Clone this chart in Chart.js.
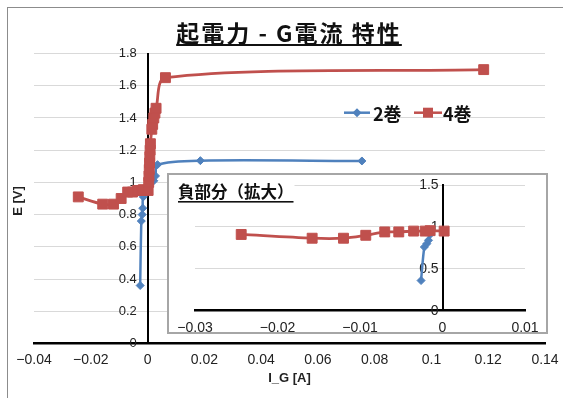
<!DOCTYPE html>
<html>
<head>
<meta charset="utf-8">
<script src="https://cdn.jsdelivr.net/npm/chart.js@4.4.1/dist/chart.umd.min.js"></script>
<style>
  html, body { margin: 0; padding: 0; background: #fff; }
  body { width: 563px; height: 398px; position: relative; overflow: hidden; }
  #frame { position: absolute; left: 7px; top: 7px; width: 700px; height: 600px; border: 1px solid #8c8c8c; }
  #mainChart { position: absolute; left: 0; top: 0; }
  #insetBox { position: absolute; left: 167px; top: 173px; width: 381px; height: 161px; box-sizing: border-box; border: 2px solid #a6a6a6; background: #fff; }
  #insetChart { position: absolute; left: 167px; top: 173px; }
</style>
</head>
<body>
<div id="frame"></div>
<canvas id="mainChart" width="563" height="398"></canvas>
<div id="insetBox"></div>
<canvas id="insetChart" width="381" height="161"></canvas>
<script>
// 2巻 (blue) : I_G [A], E [V]
const blueX = [-0.0026, -0.0022, -0.0019, -0.0017, -0.0015, 0.0022, 0.0028, 0.0035, 0.0186, 0.0755];
const blueY = [0.36, 0.76, 0.80, 0.84, 0.91, 1.01, 1.04, 1.11, 1.135, 1.133];

// 4巻 (red)
const redX = [-0.0244, -0.0158, -0.0120, -0.0093, -0.0070, -0.0053, -0.0035, -0.0021, -0.0015, 0.0002,
              0.0004, 0.0005, 0.0006, 0.0007, 0.0008, 0.0009, 0.0010, 0.0015, 0.0018, 0.0022, 0.0026, 0.0030,
              0.0063, 0.1184];
const redY = [0.91, 0.865, 0.865, 0.90, 0.94, 0.94, 0.95, 0.95, 0.955, 0.95,
              1.00, 1.04, 1.08, 1.12, 1.16, 1.20, 1.24, 1.33, 1.36, 1.40, 1.43, 1.46,
              1.65, 1.70];

// how many points of each series belong to the negative part (inset)
const blueNegCount = 5;
const redNegCount = 10;

const seriesNames = ['2巻', '4巻'];
const mainTitle = '起電力 - G電流 特性';
const insetTitle = '負部分（拡大）';

const BLUE = '#4F81BD';
const RED = '#C0504D';
const TICK_COLOR = '#222';
const CJK = '"Noto Sans CJK JP", sans-serif';
const LATIN = '"Liberation Sans", Arial, sans-serif';

function toPoints(xs, ys) {
  return xs.map((x, i) => ({ x: x, y: ys[i] }));
}

function fmtTick(v) {
  const r = Math.round(v * 1000) / 1000;
  return (r < 0 ? '\u2212' : '') + Math.abs(r).toString();
}

// y labels sit on the axis at x = 0, trailing spaces keep them off the line
const fmtMainY = v => fmtTick(v) + '   ';
const fmtInsetY = v => fmtTick(v) + ' ';

function blueSet(points) {
  return {
    label: seriesNames[0], data: points, showLine: true, tension: 0.3,
    borderColor: BLUE, backgroundColor: BLUE, borderWidth: 2.5,
    pointStyle: 'rectRot', pointRadius: 4, pointHoverRadius: 4,
    pointBorderWidth: 1, pointBorderColor: BLUE, order: 1
  };
}

function redSet(points) {
  return {
    label: seriesNames[1], data: points, showLine: true, tension: 0.3,
    borderColor: RED, backgroundColor: RED, borderWidth: 2.8,
    pointStyle: 'rect', pointRadius: 7, pointHoverRadius: 7,
    pointBorderWidth: 1, pointBorderColor: RED, order: 0
  };
}

// draws a diamond or square marker for the legend
function marker(ctx, style, x, y, color) {
  ctx.fillStyle = color;
  ctx.beginPath();
  if (style === 'rect') {
    ctx.rect(x - 5, y - 5, 10, 10);
  } else {
    ctx.moveTo(x, y - 4.5); ctx.lineTo(x + 4.5, y); ctx.lineTo(x, y + 4.5); ctx.lineTo(x - 4.5, y);
    ctx.closePath();
  }
  ctx.fill();
}

const mainDecor = {
  id: 'mainDecor',
  afterDraw(chart) {
    const ctx = chart.ctx;
    ctx.save();
    // title
    ctx.font = 'bold 23px ' + CJK;
    ctx.letterSpacing = '2px';
    ctx.fillStyle = '#111';
    ctx.textAlign = 'center';
    ctx.textBaseline = 'middle';
    ctx.fillText(mainTitle, 289, 33);
    const w = ctx.measureText(mainTitle).width;
    ctx.fillRect(289 - w / 2, 44, w, 2);
    ctx.letterSpacing = '0px';

    // y axis title
    ctx.save();
    ctx.translate(18, 201);
    ctx.rotate(-Math.PI / 2);
    ctx.font = 'bold 13px ' + LATIN;
    ctx.fillStyle = '#222';
    ctx.fillText('E [V]', 0, 0);
    ctx.restore();

    // legend
    const ly = 112.7;
    ctx.lineWidth = 2.5;
    ctx.strokeStyle = BLUE;
    ctx.beginPath(); ctx.moveTo(344, ly); ctx.lineTo(370, ly); ctx.stroke();
    marker(ctx, 'rectRot', 357, ly, BLUE);
    ctx.strokeStyle = RED;
    ctx.beginPath(); ctx.moveTo(414, ly); ctx.lineTo(442, ly); ctx.stroke();
    marker(ctx, 'rect', 428, ly, RED);
    ctx.font = 'bold 18px ' + CJK;
    ctx.fillStyle = '#111';
    ctx.textAlign = 'left';
    ctx.fillText(seriesNames[0], 373, ly + 1);
    ctx.fillText(seriesNames[1], 443, ly + 1);
    ctx.restore();
  }
};

const insetDecor = {
  id: 'insetDecor',
  afterDraw(chart) {
    const ctx = chart.ctx;
    ctx.save();
    ctx.font = 'bold 16.5px ' + CJK;
    const w = ctx.measureText(insetTitle).width;
    ctx.fillStyle = '#fff';
    ctx.fillRect(10, 8, w + 2, 22);
    ctx.fillStyle = '#111';
    ctx.textAlign = 'left';
    ctx.textBaseline = 'middle';
    ctx.fillText(insetTitle, 11, 19);
    ctx.fillRect(11, 28, w, 1.6);
    ctx.restore();
  }
};

new Chart(document.getElementById('mainChart'), {
  type: 'scatter',
  data: { datasets: [blueSet(toPoints(blueX, blueY)), redSet(toPoints(redX, redY))] },
  options: {
    responsive: false,
    animation: false,
    layout: { padding: { left: 34, right: 18, top: 53.5, bottom: 0 } },
    plugins: { legend: { display: false }, tooltip: { enabled: false } },
    scales: {
      x: {
        type: 'linear', min: -0.04, max: 0.14,
        afterFit: s => { s.height = 54.5; },
        ticks: { stepSize: 0.02, padding: 0, maxRotation: 0, autoSkip: false, color: TICK_COLOR,
                 font: { family: LATIN, size: 14 }, callback: fmtTick },
        grid: { display: false },
        border: { display: true, color: '#000', width: 2.5 },
        title: { display: true, text: 'I_G [A]', color: '#222',
                 font: { family: LATIN, size: 13, weight: 'bold' }, padding: { top: 0, bottom: 12 } }
      },
      y: {
        type: 'linear', min: 0, max: 1.8, position: { x: 0 },
        ticks: { stepSize: 0.2, padding: 0, color: TICK_COLOR, font: { family: LATIN, size: 13 }, callback: fmtMainY },
        grid: { color: '#d9d9d9', lineWidth: 1, drawTicks: false },
        border: { display: true, color: '#000', width: 2 }
      }
    }
  },
  plugins: [mainDecor]
});

new Chart(document.getElementById('insetChart'), {
  type: 'scatter',
  data: { datasets: [
    blueSet(toPoints(blueX.slice(0, blueNegCount), blueY.slice(0, blueNegCount))),
    redSet(toPoints(redX.slice(0, redNegCount), redY.slice(0, redNegCount)))
  ] },
  options: {
    responsive: false,
    animation: false,
    layout: { padding: { left: 28, right: 23, top: 12, bottom: 0 } },
    plugins: { legend: { display: false }, tooltip: { enabled: false } },
    scales: {
      x: {
        type: 'linear', min: -0.03, max: 0.01,
        afterFit: s => { s.height = 23.3; },
        ticks: { stepSize: 0.01, padding: 1, maxRotation: 0, autoSkip: false, color: TICK_COLOR,
                 font: { family: LATIN, size: 14 }, callback: fmtTick },
        grid: { display: false },
        border: { display: true, color: '#000', width: 2.5 }
      },
      y: {
        type: 'linear', min: 0, max: 1.5, position: { x: 0 },
        ticks: { stepSize: 0.5, padding: 0, color: TICK_COLOR, font: { family: LATIN, size: 14 }, callback: fmtInsetY },
        grid: { color: '#d9d9d9', lineWidth: 1, drawTicks: false },
        border: { display: true, color: '#000', width: 2 }
      }
    }
  },
  plugins: [insetDecor]
});
</script>
</body>
</html>
